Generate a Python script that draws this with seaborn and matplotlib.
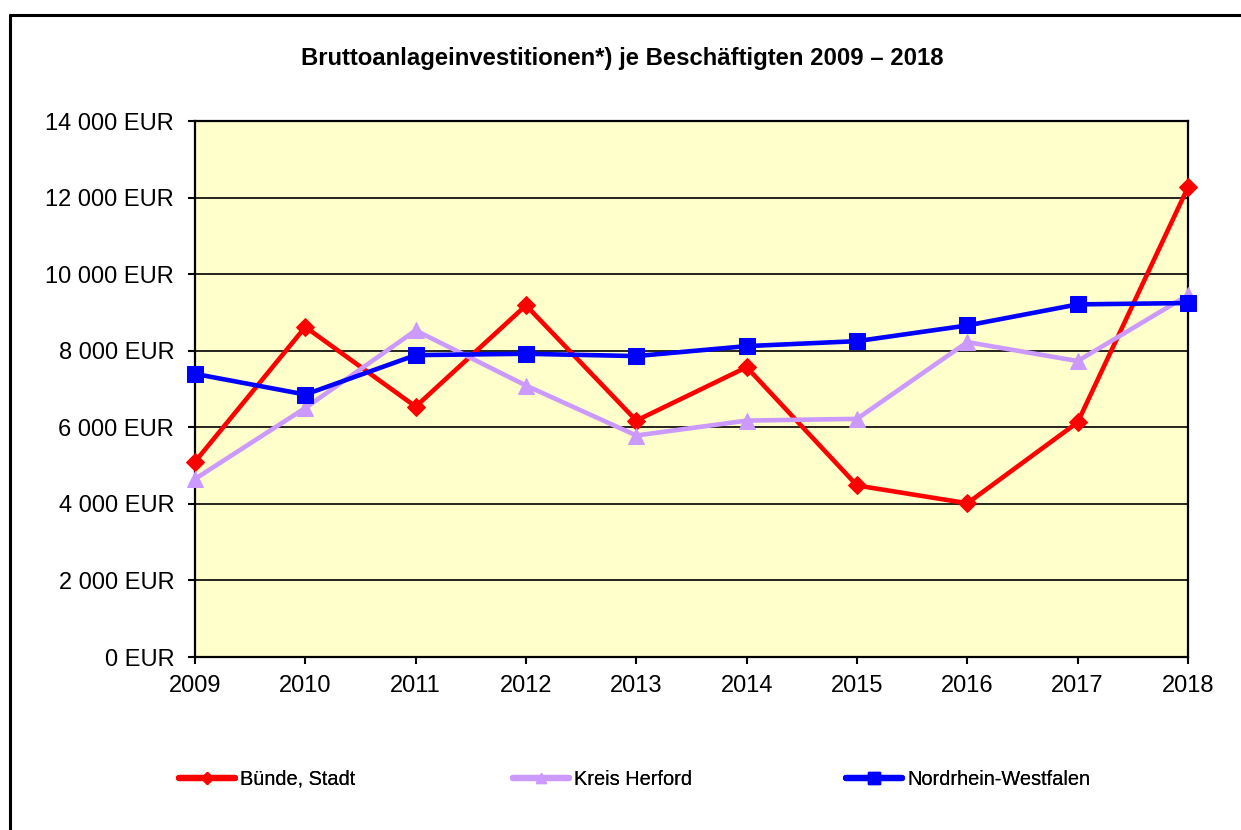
import seaborn as sns
import pandas as pd
import matplotlib.pyplot as plt
from matplotlib.ticker import FuncFormatter
from matplotlib.lines import Line2D

sns.set_style("white")
plt.rcParams["font.family"] = ["Liberation Sans", "DejaVu Sans"]
plt.rcParams["text.color"] = "black"

years = [2009, 2010, 2011, 2012, 2013, 2014, 2015, 2016, 2017, 2018]
buende = [5100, 8620, 6540, 9185, 6175, 7570, 4480, 4015, 6130, 12270]
herford = [4650, 6505, 8530, 7090, 5785, 6175, 6220, 8225, 7730, 9450]
nrw = [7395, 6855, 7885, 7920, 7860, 8120, 8250, 8660, 9210, 9245]
names = ["Bünde, Stadt", "Kreis Herford", "Nordrhein-Westfalen"]
colors = ["#FF0000", "#CC99FF", "#0000FF"]
markers = ["D", "^", "s"]
msizes = [9, 11, 11.5]

df = pd.DataFrame({"Jahr": years, names[0]: buende, names[1]: herford, names[2]: nrw})

fig = plt.figure(figsize=(12.41, 8.30), dpi=100)
ax = fig.add_axes([195 / 1241, 1 - 657 / 830, 993 / 1241, 536 / 830])
ax.set_facecolor("#FFFFCC")

for i, name in enumerate(names):
    sns.lineplot(data=df, x="Jahr", y=name, ax=ax, color=colors[i], marker=markers[i],
                 markersize=msizes[i], markeredgecolor=colors[i], linewidth=3.3,
                 zorder=3 + i, clip_on=False, legend=False)

ax.set_xlim(2009, 2018)
ax.set_ylim(0, 14000)
ax.set_xticks(years)
ax.set_yticks(range(0, 14001, 2000))
ax.yaxis.set_major_formatter(FuncFormatter(lambda v, p: f"{v:,.0f}".replace(",", " ") + " EUR"))
ax.grid(axis="y", color="black", linewidth=1.2)
ax.grid(axis="x", visible=False)
ax.set_xlabel("")
ax.set_ylabel("")
ax.tick_params(axis="both", which="major", bottom=True, left=True, direction="out", length=5,
               width=1.5, color="black", labelcolor="black", labelsize=17)
ax.tick_params(axis="y", pad=10)
ax.tick_params(axis="x", pad=8)
for s in ax.spines.values():
    s.set_color("black")
    s.set_linewidth(1.6)

# Legende: drei Einträge mit eigenen Positionen wie im Original
legend_x = [179, 513, 846]
for i in range(3):
    h = Line2D([], [], color=colors[i], marker=markers[i], markersize=msizes[i] * 0.7,
               markeredgecolor=colors[i], linewidth=4.5, solid_capstyle="round")
    leg = fig.legend([h], [names[i]], loc="center left",
                     bbox_to_anchor=(legend_x[i] / 1241, 1 - 779 / 830), frameon=False,
                     fontsize=14.4, handlelength=2.8, handletextpad=0.25,
                     borderpad=0, borderaxespad=0)
    fig.add_artist(leg)

fig.text(0.5015, 1 - 58 / 830, "Bruttoanlageinvestitionen*) je Beschäftigten 2009 – 2018",
         ha="center", va="center", fontsize=17.2, fontweight="bold", color="black")

# Rahmen um das Diagramm
fig.add_artist(Line2D([10 / 1241, 1], [1 - 15 / 830, 1 - 15 / 830], color="black", linewidth=2.2,
                      transform=fig.transFigure))
fig.add_artist(Line2D([10 / 1241, 10 / 1241], [0, 1 - 15 / 830], color="black", linewidth=2.2,
                      transform=fig.transFigure))

plt.savefig("out.png", dpi=100)
